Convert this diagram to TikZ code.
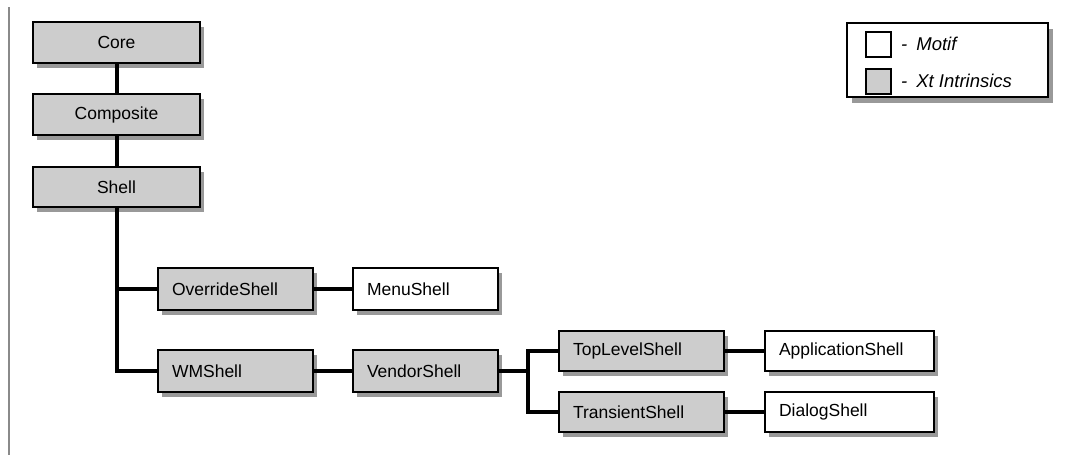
\documentclass[tikz,border=0pt]{standalone}
\usepackage{fontspec}
\setmainfont{Liberation Sans}
\usetikzlibrary{shadows}
\definecolor{boxgray}{HTML}{CDCDCD}
\definecolor{rulegray}{HTML}{8A8A8A}
\tikzset{
  cls/.style={draw=black, line width=2pt, rectangle, minimum height=40pt,
    font=\fontsize{17.5}{20}\selectfont,
    drop shadow={shadow xshift=4pt, shadow yshift=-5pt, fill=black, opacity=0.4}},
  xt/.style={cls, fill=boxgray},
  motif/.style={cls, fill=white},
  centred/.style={minimum width=#1, inner xsep=0pt, align=center},
  lefty/.style={text width=#1-28pt, inner xsep=14pt, align=left},
  link/.style={line width=4pt, line join=miter},
  keybox/.style={draw=black, line width=2pt, minimum width=25pt, minimum height=25pt, inner sep=0pt},
  keytext/.style={anchor=west, font=\fontsize{18.5}{21}\selectfont\itshape, inner sep=0pt}
}
\begin{document}
\begin{tikzpicture}[x=1pt, y=-1pt]
\useasboundingbox (0,0) rectangle (1074,455);
\fill[white] (0,0) rectangle (1074,455);

% margin rule
\draw[rulegray, line width=2pt] (9,7) -- (9,455);

% Xt Intrinsics chain
\node[xt, centred=167pt, minimum height=41pt] (core) at (116.5,42.5) {Core};
\node[xt, centred=167pt, minimum height=41pt] (composite) at (116.5,114.5) {Composite};
\node[xt, centred=167pt, minimum height=40pt] (shell) at (116.5,187) {Shell};

\node[xt, lefty=155pt, minimum height=42pt] (override) at (235.5,289) {OverrideShell};
\node[motif, lefty=145pt, minimum height=42pt] (menu) at (425.5,289) {MenuShell};
\node[xt, lefty=155pt, minimum height=42pt] (wm) at (235.5,371) {WMShell};
\node[xt, lefty=145pt, minimum height=42pt] (vendor) at (425.5,371) {VendorShell};

\node[xt, lefty=165pt] (toplevel) at (641.5,351) {TopLevelShell};
\node[xt, lefty=165pt] (transient) at (641.5,412) {TransientShell};
\node[motif, lefty=169pt] (application) at (849.5,351) {ApplicationShell};
\node[motif, lefty=169pt] (dialog) at (849.5,412) {DialogShell};

% connectors
\coordinate (fork) at (528,371);
\draw[link] (core) -- (composite);
\draw[link] (composite) -- (shell);
\draw[link] (shell.south) |- (wm.west);
\draw[link] (shell.south |- override.west) -- (override.west);
\draw[link] (override) -- (menu);
\draw[link] (wm) -- (vendor);
\draw[link] (vendor.east) -- (fork);
\draw[link] (toplevel.west) -| (fork) |- (transient.west);
\draw[link] (toplevel) -- (application);
\draw[link] (transient) -- (dialog);

% key
\node[draw=black, line width=1.5pt, fill=white, minimum width=201pt, minimum height=74pt,
  drop shadow={shadow xshift=5pt, shadow yshift=-6pt, fill=black, opacity=0.4}] (key) at (947.5,60) {};
\node[keybox, fill=white] (keymotif) at (878.5,44) {};
\node[keybox, fill=boxgray] (keyxt) at (878.5,81) {};
\node[keytext] (lmotif) at (901,44) {-\hspace{9pt}Motif};
\node[keytext] (lxt) at (901,81) {-\hspace{9pt}Xt Intrinsics};
\end{tikzpicture}
\end{document}
